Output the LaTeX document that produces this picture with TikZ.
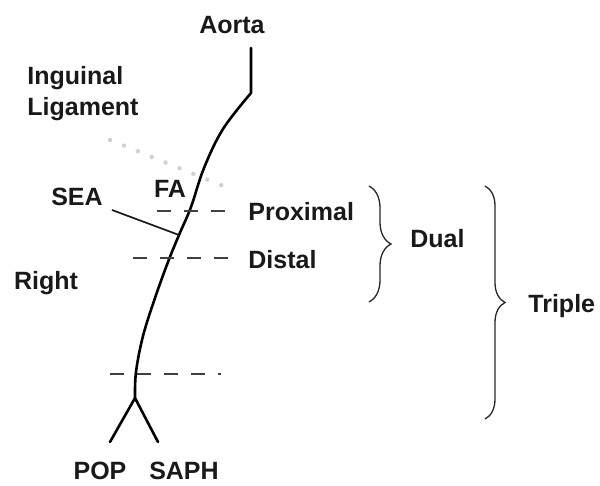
\documentclass[tikz,border=0pt]{standalone}
\usepackage{fontspec}
\setmainfont{Liberation Sans}
\usetikzlibrary{decorations.pathreplacing}
\begin{document}
\begin{tikzpicture}[x=0.5pt,y=-0.5pt,
  lbl/.style={font=\fontsize{12.5}{14}\selectfont\bfseries, text=black!90, inner sep=0pt},
  vessel/.style={line width=1.3pt, black, line cap=round, line join=round},
  branch/.style={line width=0.85pt, black!90},
  level/.style={line width=1.3pt, black!75, dash pattern=on 7pt off 6.5pt},
  ligament/.style={line width=2.2pt, black!18, line cap=round, dash pattern=on 0pt off 7.5pt},
  grouping/.style={line width=0.65pt, black!85, decorate, decoration={brace, amplitude=#1}}
]
\useasboundingbox (0,0) rectangle (600,486);

% labels
\node[lbl] (aorta) at (232,25) {Aorta};
\node[lbl, anchor=west] (ing) at (27,78) {Inguinal};
\node[lbl, anchor=west] (lig) at (27,109) {Ligament};
\node[lbl] (fa) at (170,189) {FA};
\node[lbl] (sea) at (77,197) {SEA};
\node[lbl, anchor=west] (prox) at (248,212) {Proximal};
\node[lbl, anchor=west] (dist) at (248,260) {Distal};
\node[lbl] (right) at (46,283) {Right};
\node[lbl] (pop) at (100,471) {POP};
\node[lbl] (saph) at (184,471) {SAPH};
\node[lbl, anchor=west] (dual) at (410,239) {Dual};
\node[lbl, anchor=west] (triple) at (528,306) {Triple};

% inguinal ligament (dotted)
\coordinate (ligA) at (110,140);
\coordinate (ligB) at (228,188);
\draw[ligament] (ligA) -- (ligB);

% artery from aorta to the popliteal bifurcation
\coordinate (aoTop) at (251,48);
\coordinate (aoBend) at (251,93);
\coordinate (seaJ) at (179,235);
\coordinate (bif) at (135,398);
\draw[vessel] (aoTop) -- (aoBend)
  plot[smooth, tension=0.6] coordinates {(251,93) (223,129) (204,168) (191,207) (179,235) (168,262) (155,298) (143,336) (136,372) (135,398)};

% superficial epigastric branch
\coordinate (seaEnd) at (112,210);
\draw[branch] (seaEnd) -- (seaJ);

% bifurcation into popliteal and saphenous
\coordinate (popEnd) at (110,442);
\coordinate (saphEnd) at (158,442);
\draw[vessel] (popEnd) -- (bif) -- (saphEnd);

% anastomosis levels
\coordinate (pxA) at (157,211);
\coordinate (pxB) at (228,211);
\coordinate (dsA) at (133,258);
\coordinate (dsB) at (228,258);
\coordinate (lwA) at (110,374);
\coordinate (lwB) at (221,374);
\draw[level] (pxA) -- (pxB);
\draw[level] (dsA) -- (dsB);
\draw[level] (lwA) -- (lwB);

% grouping braces
\coordinate (duTop) at (369,186);
\coordinate (duBot) at (369,302);
\coordinate (trTop) at (485,186);
\coordinate (trBot) at (485,419);
\draw[grouping=11pt] (duTop) -- (duBot);
\draw[grouping=10pt] (trTop) -- (trBot);
\end{tikzpicture}
\end{document}
